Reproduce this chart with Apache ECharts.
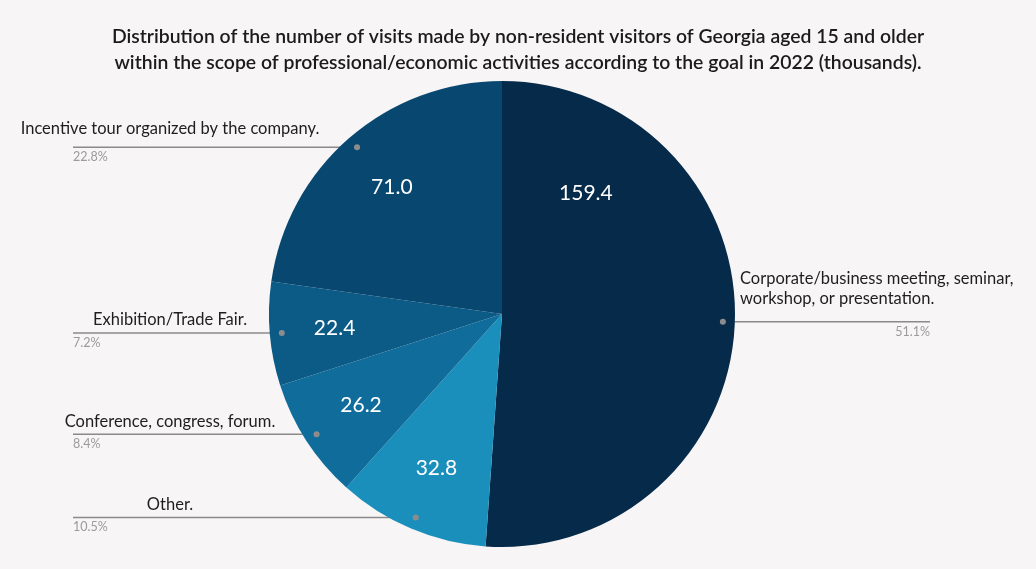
<!DOCTYPE html>
<html>
<head>
<meta charset="utf-8">
<title>Professional visits to Georgia, 2022</title>
<script src="https://cdn.jsdelivr.net/npm/echarts@6/dist/echarts.min.js"></script>
<style>
  html, body { margin: 0; padding: 0; background: #f7f5f6; }
  #chart { width: 1036px; height: 569px; }
</style>
</head>
<body>
<div id="chart"></div>
<script>
// Chart text and data
const titleLines = [
  'Distribution of the number of visits made by non-resident visitors of Georgia aged 15 and older',
  'within the scope of professional/economic activities according to the goal in 2022 (thousands).'
];
const categories = [
  'Corporate/business meeting, seminar, workshop, or presentation.',
  'Other.',
  'Conference, congress, forum.',
  'Exhibition/Trade Fair.',
  'Incentive tour organized by the company.'
];
const visits = [159.4, 32.8, 26.2, 22.4, 71.0];
const sliceColors = ['#062a49', '#1a8fbb', '#106d9b', '#0c5b87', '#084870'];

// Layout
const CENTER = [502, 314];
const RADIUS = 233;
const ANCHOR_RADIUS = 221;     // where the leader lines start
const LEFT_EDGE = 73;          // left leader lines end here
const RIGHT_EDGE = 930;        // right leader lines end here
const LEFT_NAME_CENTER = 170;  // names on the left are centred here
const RIGHT_NAME_X = 740;      // names on the right start here
const FONT = 'Lato, "Open Sans", sans-serif';
const CLEAR = 'rgba(0,0,0,0)';

// the largest slice carries its value label in its upper half
const valueLabelShift = { 0: [-84, -127] };
// extra gap between a name and its leader line
const nameLift = { 4: 6 };

const chart = echarts.init(document.getElementById('chart'), null, { renderer: 'canvas' });
const anchors = [];

const sliceData = categories.map((name, i) => ({
  name, value: visits[i], itemStyle: { color: sliceColors[i] }
}));
const valueData = categories.map((name, i) => {
  const item = { name, value: visits[i] };
  if (valueLabelShift[i]) item.label = { offset: valueLabelShift[i] };
  return item;
});
const ghostData = categories.map((name, i) => ({ name, value: visits[i] }));

const ghostBase = {
  type: 'pie',
  center: CENTER,
  radius: ANCHOR_RADIUS,
  startAngle: 90,
  silent: true,
  avoidLabelOverlap: false,
  itemStyle: { color: CLEAR, borderWidth: 0 },
  emphasis: { disabled: true },
  data: ghostData
};

const option = {
  backgroundColor: '#f7f5f6',
  animation: false,
  title: {
    text: titleLines.join('\n'),
    left: 'center',
    top: 24,
    padding: 0,
    textStyle: {
      fontFamily: FONT,
      fontSize: 19.4,
      fontWeight: 600,
      color: '#1b1b1b',
      lineHeight: 26
    }
  },
  series: [
    {
      // the visible slices
      type: 'pie',
      center: CENTER,
      radius: RADIUS,
      startAngle: 90,
      silent: true,
      emphasis: { disabled: true },
      label: { show: false },
      labelLine: { show: false },
      data: sliceData
    },
    {
      // value labels inside the slices
      type: 'pie',
      center: CENTER,
      radius: [125, 205],
      startAngle: 90,
      silent: true,
      emphasis: { disabled: true },
      itemStyle: { color: CLEAR, borderWidth: 0 },
      label: {
        show: true,
        position: 'inside',
        formatter: p => p.value.toFixed(1),
        color: '#ffffff',
        fontFamily: FONT,
        fontSize: 21
      },
      labelLine: { show: false },
      data: valueData
    },
    Object.assign({}, ghostBase, {
      // shares with their leader lines
      percentPrecision: 1,
      label: {
        show: true,
        position: 'outside',
        formatter: '{d}%',
        color: '#9b9b9b',
        fontFamily: FONT,
        fontSize: 12.5
      },
      labelLine: {
        show: true,
        length: 0,
        length2: 0,
        lineStyle: { color: '#8a8a8a', width: 1.5 }
      },
      labelLayout: p => {
        const pts = p.labelLinePoints;
        if (!pts) return {};
        const s = [pts[0][0], pts[0][1]];
        anchors[p.dataIndex] = s;
        const left = s[0] < CENTER[0];
        const endX = left ? LEFT_EDGE : RIGHT_EDGE;
        return {
          x: endX,
          y: s[1] + 10,
          align: left ? 'left' : 'right',
          verticalAlign: 'middle',
          labelLinePoints: [s, s, [endX, s[1]]]
        };
      }
    }),
    Object.assign({}, ghostBase, {
      // category names above the leader lines
      label: {
        show: true,
        position: 'outside',
        formatter: '{b}',
        color: '#1e1e1e',
        fontFamily: FONT,
        fontSize: 16.5,
        lineHeight: 20,
        width: 310,
        overflow: 'break'
      },
      labelLine: { show: true, length: 0, length2: 0, lineStyle: { opacity: 0 } },
      labelLayout: p => {
        const pts = p.labelLinePoints;
        if (!pts) return {};
        const s = pts[0];
        const left = s[0] < CENTER[0];
        return {
          x: left ? LEFT_NAME_CENTER : RIGHT_NAME_X,
          y: s[1] - (left ? 3 : 13) - (nameLift[p.dataIndex] || 0),
          align: left ? 'center' : 'left',
          verticalAlign: 'bottom'
        };
      }
    })
  ]
};

chart.setOption(option);

// small dots where the leader lines leave the slices
let dotsDrawn = false;
function drawAnchorDots() {
  if (dotsDrawn || !anchors.length) return;
  dotsDrawn = true;
  chart.setOption({
    graphic: anchors.filter(Boolean).map(p => ({
      type: 'circle',
      z: 100,
      silent: true,
      shape: { cx: p[0], cy: p[1], r: 3 },
      style: { fill: '#8c8c8c' }
    }))
  });
}
drawAnchorDots();
chart.on('finished', drawAnchorDots);
</script>
</body>
</html>
